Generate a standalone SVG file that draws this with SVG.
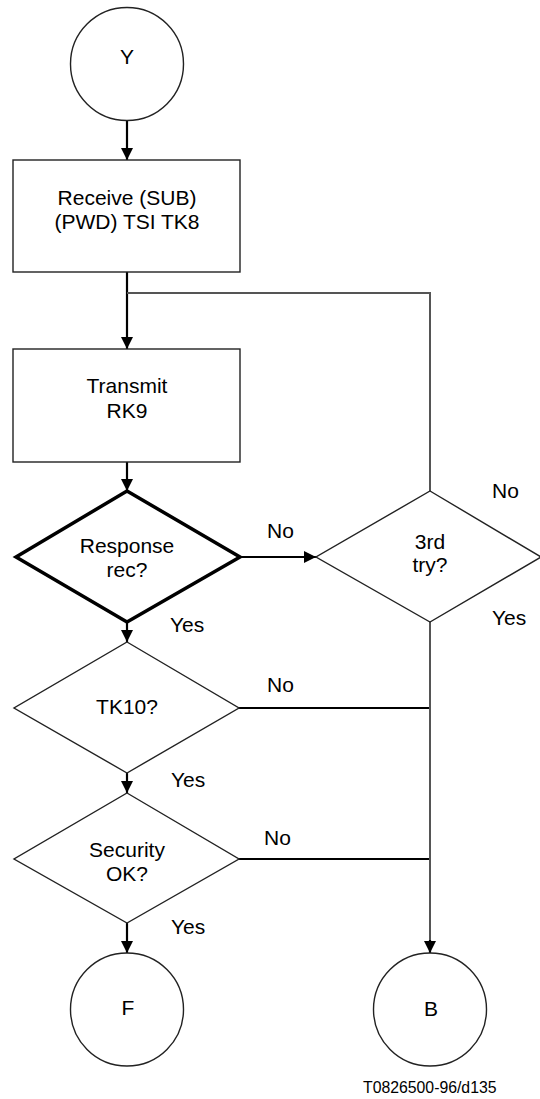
<svg xmlns="http://www.w3.org/2000/svg" width="540" height="1099" viewBox="0 0 540 1099">
<style>
text{font-family:"Liberation Sans",Arial,sans-serif;font-size:21px;fill:#000}
.c{text-anchor:middle}
.shape{fill:#fff;stroke:#222;stroke-width:1.4}
.thick{fill:#fff;stroke:#000;stroke-width:3.5}
.ln{fill:none;stroke:#000;stroke-width:2.2}
.gr{fill:none;stroke:#555;stroke-width:2}
</style>
<defs>
<marker id="ah" viewBox="0 0 12 12" refX="12" refY="6" markerWidth="12" markerHeight="12" markerUnits="userSpaceOnUse" orient="auto">
<path d="M0,0 L12,6 L0,12 z" fill="#000"/>
</marker>
</defs>
<rect width="540" height="1099" fill="#fff"/>
<g id="connectors">
<line class="ln" x1="127" y1="120" x2="127" y2="160" marker-end="url(#ah)"/>
<line class="ln" x1="127" y1="272" x2="127" y2="349" marker-end="url(#ah)"/>
<polyline class="gr" points="127,293 430,293 430,491"/>
<line class="ln" x1="127" y1="462" x2="127" y2="491" marker-end="url(#ah)"/>
<line class="ln" x1="240" y1="557" x2="316" y2="557" marker-end="url(#ah)"/>
<line class="ln" x1="127" y1="622" x2="127" y2="642" marker-end="url(#ah)"/>
<line class="ln" x1="239" y1="708" x2="430" y2="708"/>
<line class="ln" x1="127" y1="773" x2="127" y2="793" marker-end="url(#ah)"/>
<line class="ln" x1="239" y1="859" x2="430" y2="859"/>
<line class="ln" x1="127" y1="923" x2="127" y2="953" marker-end="url(#ah)"/>
<line class="gr" x1="430" y1="622" x2="430" y2="941"/>
<line class="ln" x1="430" y1="940" x2="430" y2="953" marker-end="url(#ah)"/>
<text x="267" y="538">No</text>
<text x="170" y="632">Yes</text>
<text x="267" y="692">No</text>
<text x="171" y="787">Yes</text>
<text x="264" y="845">No</text>
<text x="171" y="934">Yes</text>
<text x="492" y="498">No</text>
<text x="492" y="625">Yes</text>
</g>
<g id="nodeY">
<circle class="shape" cx="127" cy="64" r="56.5"/>
<text class="c" x="127" y="64">Y</text>
</g>
<g id="receive">
<rect class="shape" x="13" y="160" width="227" height="112"/>
<text class="c" x="127" y="205">Receive (SUB)</text>
<text class="c" x="127" y="229">(PWD) TSI TK8</text>
</g>
<g id="transmit">
<rect class="shape" x="13" y="349" width="227" height="113"/>
<text class="c" x="127" y="393">Transmit</text>
<text class="c" x="127" y="418">RK9</text>
</g>
<g id="response">
<polygon class="thick" points="127,491 240,557 127,622 16,557"/>
<text class="c" x="127" y="553">Response</text>
<text class="c" x="127" y="577">rec?</text>
</g>
<g id="third">
<polygon class="shape" points="430,491 541,557 430,622 316,557"/>
<text class="c" x="430" y="549">3rd</text>
<text class="c" x="430" y="572">try?</text>
</g>
<g id="tk10">
<polygon class="shape" points="127,642 239,708 127,773 14,708"/>
<text class="c" x="127" y="714">TK10?</text>
</g>
<g id="security">
<polygon class="shape" points="127,793 239,859 127,923 14,859"/>
<text class="c" x="127" y="857">Security</text>
<text class="c" x="127" y="881">OK?</text>
</g>
<g id="nodeF">
<circle class="shape" cx="127" cy="1009.5" r="56.5"/>
<text class="c" x="128" y="1015">F</text>
</g>
<g id="nodeB">
<circle class="shape" cx="430" cy="1009.5" r="56.5"/>
<text class="c" x="431" y="1016">B</text>
</g>
<text x="363" y="1093" style="font-size:15.8px">T0826500-96/d135</text>
</svg>
